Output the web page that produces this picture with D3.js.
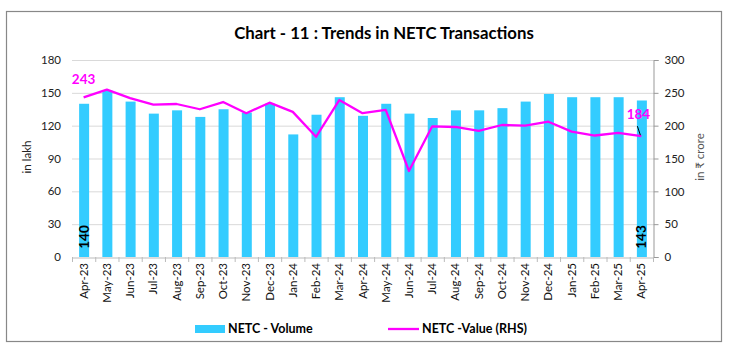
<!DOCTYPE html>
<html><head><meta charset="utf-8">
<script src="https://cdn.jsdelivr.net/npm/d3@7"></script>
<style>body{margin:0;background:#fff;} svg{display:block;font-family:Lato,"Open Sans",sans-serif;}</style>
</head><body>
<svg id="c" width="729" height="355"></svg>
<script>
const categories = ["Apr-23","May-23","Jun-23","Jul-23","Aug-23","Sep-23","Oct-23","Nov-23","Dec-23","Jan-24","Feb-24","Mar-24","Apr-24","May-24","Jun-24","Jul-24","Aug-24","Sep-24","Oct-24","Nov-24","Dec-24","Jan-25","Feb-25","Mar-25","Apr-25"];
const volume = [140,152,142,131,134,128,135,132,140,112,130,146,129,140,131,127,134,134,136,142,149,146,146,146,143];
const value = [243,255,242,232,233,225,236,219,235,221,183,239,219,224,131,199,198,192,201,200,206,191,185,189,184];
const leftTicks = [0,30,60,90,120,150,180];
const rightTicks = [0,50,100,150,200,250,300];

const svg = d3.select("#c");
const m = {l:72, r:653, t:60, b:257};

svg.append("rect").attr("x",6.5).attr("y",11.5).attr("width",715).attr("height",330)
  .attr("fill","#fff").attr("stroke","#888").attr("stroke-width",1.2);

const x = d3.scaleBand().domain(categories).range([m.l,m.r]).paddingInner(0).paddingOuter(0);
const yL = d3.scaleLinear().domain([0,180]).range([m.b,m.t]);
const yR = d3.scaleLinear().domain([0,300]).range([m.b,m.t]);

// gridlines
svg.append("g").selectAll("line").data(leftTicks.slice(1)).join("line")
  .attr("x1",m.l).attr("x2",m.r).attr("y1",d=>yL(d)+0.5).attr("y2",d=>yL(d)+0.5)
  .attr("stroke","#d9d9d9").attr("stroke-width",1);

// left axis labels
svg.append("g").selectAll("text").data(leftTicks).join("text")
  .attr("x",61).attr("y",d=>yL(d)).attr("dy","0.35em").attr("text-anchor","end")
  .attr("font-size",11.5).attr("fill","#222").text(d=>d);

// right axis
const rAxis = d3.axisRight(yR).tickValues(rightTicks).tickSize(5).tickPadding(6);
const rg = svg.append("g").attr("transform",`translate(${m.r+0.5},0)`).call(rAxis);
rg.select(".domain").attr("stroke","#999");
rg.selectAll(".tick line").attr("stroke","#999");
rg.selectAll("text").attr("font-size",11.5).attr("fill","#222").attr("font-family","Lato,sans-serif");

// bars
const bw = 10;
svg.append("g").selectAll("rect").data(volume).join("rect")
  .attr("x",(d,i)=>x(categories[i])+x.bandwidth()/2-bw/2+0.5)
  .attr("width",bw)
  .attr("y",d=>yL(d)).attr("height",d=>yL(0)-yL(d))
  .attr("fill","#33CCFF");

// bottom axis
const bAxis = d3.axisBottom(x).tickSize(0).tickPadding(0);
const bg = svg.append("g").attr("transform",`translate(0,${m.b+0.5})`).call(bAxis);
bg.select(".domain").attr("stroke","#bbb");
bg.selectAll(".tick text").remove();
const bounds = categories.map(c=>x(c)).concat([m.r]);
svg.append("g").selectAll("line").data(bounds).join("line")
  .attr("x1",d=>d+0.5).attr("x2",d=>d+0.5).attr("y1",m.b).attr("y2",m.b+5)
  .attr("stroke","#bbb");
svg.append("g").selectAll("text").data(categories).join("text")
  .attr("transform",d=>`translate(${x(d)+x.bandwidth()/2+4},${m.b+6}) rotate(-90)`)
  .attr("text-anchor","end").attr("font-size",11.5).attr("fill","#111").text(d=>d);

// line
const line = d3.line().x((d,i)=>x(categories[i])+x.bandwidth()/2).y(d=>yR(d));
svg.append("path").datum(value).attr("d",line).attr("fill","none")
  .attr("stroke","#FF00FF").attr("stroke-width",2.3).attr("stroke-linejoin","round");

// data labels
const cx = i=>x(categories[i])+x.bandwidth()/2;
svg.append("text").attr("x",cx(0)).attr("y",yR(value[0])-13).attr("text-anchor","middle")
  .attr("font-size",13.5).attr("font-weight","bold").attr("fill","#FF00FF").text(value[0]);
const n = value.length-1;
svg.append("text").attr("x",cx(n)-3).attr("y",yR(value[n])-17).attr("text-anchor","middle")
  .attr("font-size",13.5).attr("font-weight","bold").attr("fill","#FF00FF").text(value[n]);
svg.append("line").attr("x1",cx(n)-4).attr("y1",yR(value[n])-10).attr("x2",cx(n)-1).attr("y2",yR(value[n])-1)
  .attr("stroke","#000").attr("stroke-width",1);
[0,n].forEach(i=>{
  svg.append("text").attr("transform",`translate(${cx(i)+5},${yL(0)-20}) rotate(-90)`)
    .attr("text-anchor","middle").attr("font-size",13.5).attr("font-weight","bold").attr("fill","#000").text(volume[i]);
});

// axis titles
svg.append("text").attr("transform","translate(31,157) rotate(-90)").attr("text-anchor","middle")
  .attr("font-size",11.5).attr("fill","#222").text("in lakh");
svg.append("text").attr("transform","translate(704,157) rotate(-90)").attr("text-anchor","middle")
  .attr("font-size",11.5).attr("fill","#555").text("in ₹ crore");

// title
svg.append("text").attr("x",384).attr("y",39).attr("text-anchor","middle")
  .attr("font-size",16.8).attr("font-weight","bold").attr("fill","#000")
  .text("Chart - 11 : Trends in NETC Transactions");

// legend
svg.append("rect").attr("x",195).attr("y",325).attr("width",30).attr("height",8).attr("fill","#33CCFF");
svg.append("text").attr("x",228).attr("y",329).attr("dy","0.35em").attr("font-size",12.5).attr("font-weight","bold").text("NETC - Volume");
svg.append("line").attr("x1",388).attr("x2",419).attr("y1",329).attr("y2",329).attr("stroke","#FF00FF").attr("stroke-width",2.3);
svg.append("text").attr("x",422).attr("y",329).attr("dy","0.35em").attr("font-size",12.5).attr("font-weight","bold").text("NETC -Value (RHS)");
</script>
</body></html>
